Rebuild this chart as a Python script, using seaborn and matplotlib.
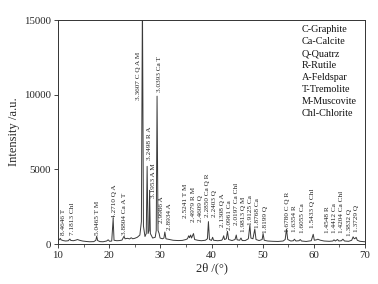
import matplotlib
matplotlib.use("Agg")
import matplotlib.pyplot as plt
import seaborn as sns
import pandas as pd
from matplotlib.ticker import MultipleLocator

# ---- data: traced vertices of the XRD pattern (2theta in degrees, intensity a.u.)
two_theta = [10.0, 10.3, 10.44, 10.6, 11.0, 11.5, 12.0, 12.32, 12.5, 13.0, 13.5, 13.8, 14.2, 14.8,
             15.5, 16.2, 17.0, 17.4, 17.56, 17.75, 18.2, 18.8, 19.5, 19.8, 20.1, 20.5, 20.78, 20.95,
             21.5, 22.0, 22.5, 22.9, 23.1, 23.6, 24.0, 24.3, 24.6, 25.0, 25.5, 26.0, 26.3, 26.5,
             26.7, 27.0, 27.25, 27.42, 27.6, 27.8, 27.9, 28.05, 28.5, 29.0, 29.2, 29.36, 29.55,
             29.77, 29.95, 30.4, 30.7, 30.88, 31.1, 31.8, 32.5, 33.5, 34.3, 35.0, 35.3, 35.54,
             35.7, 35.92, 36.1, 36.48, 36.7, 37.3, 38.0, 38.8, 39.2, 39.4, 39.6, 40.0, 40.22,
             40.4, 41.2, 42.0, 42.2, 42.38, 42.55, 42.9, 43.12, 43.35, 44.0, 44.6, 44.84, 45.0,
             45.5, 45.76, 46.0, 46.6, 47.2, 47.5, 47.7, 48.1, 48.46, 48.7, 49.3, 49.9, 50.08,
             50.3, 51.0, 52.0, 53.0, 54.0, 54.4, 54.65, 54.9, 55.5, 56.0, 56.2, 56.5, 57.1,
             57.34, 57.6, 58.5, 59.5, 59.88, 60.1, 60.5, 60.8, 61.2, 62.0, 63.0, 63.7, 63.94,
             64.2, 64.62, 64.9, 65.4, 65.68, 66.0, 66.8, 67.4, 67.68, 67.9, 68.1, 68.26, 68.5,
             69.0, 70.0]
intensity = [250, 300, 380, 280, 230, 200, 220, 330, 240, 220, 260, 300, 250, 200,
             170, 150, 160, 250, 520, 230, 160, 150, 200, 280, 180, 200, 1700, 250,
             220, 230, 260, 520, 350, 380, 340, 420, 350, 380, 450, 600, 1500, 16500,
             1200, 500, 700, 5200, 700, 900, 3600, 700, 400, 450, 900, 9900, 900,
             700, 400, 350, 400, 800, 350, 300, 250, 230, 240, 300, 350, 550,
             420, 600, 400, 700, 300, 250, 220, 250, 350, 1500, 300, 240, 450,
             250, 220, 250, 350, 550, 300, 350, 850, 300, 230, 300, 600, 280,
             250, 400, 230, 230, 350, 1250, 400, 350, 1000, 300, 230, 300, 700,
             250, 200, 180, 170, 200, 300, 1000, 300, 200, 220, 320, 200, 220,
             300, 200, 170, 220, 650, 250, 280, 320, 260, 200, 180, 200, 280,
             200, 300, 200, 220, 320, 200, 180, 250, 480, 350, 380, 450, 250,
             180, 150]

# ---- peak annotations (text, label position in data coords)
peak_labels = ["8.4646 T", "7.1813 Chl", "5.0465 T M", "4.2710 Q A", "3.8804 Ca A T",
               "3.3607 C Q A M", "3.2498 R A", "3.1953 A M", "3.0393 Ca T", "2.9986 A",
               "2.8934 A", "2.5241 T M", "2.4979 R M", "2.4609 Q", "2.2850 Ca Q R",
               "2.2403 Q", "2.1308 Q A", "2.0961 Ca", "2.0197 Ca Chl", "1.9813 Q M",
               "1.9125 Ca", "1.8768 Ca", "1.8199 Q", "1.6780 C Q R", "1.6354 R",
               "1.6055 Ca", "1.5433 Q Chl", "1.4548 R", "1.4412 Ca", "1.4204 Ca Chl",
               "1.3832 Q", "1.3729 Q"]
label_x = [11.0, 12.9, 17.76, 21.0, 22.9, 25.8, 27.85, 28.75, 29.9, 30.2,
           31.7, 34.9, 36.4, 37.9, 39.2, 40.65, 42.1, 43.55, 44.8, 46.2,
           47.6, 49.0, 50.6, 54.9, 56.3, 57.75, 59.7, 62.6, 64.05, 65.5,
           66.95, 68.4]
label_y = [600, 600, 600, 1740, 600, 9650, 5600, 3080, 10200, 1400,
           940, 1740, 1470, 1470, 1800, 1800, 1140, 940, 1270, 800,
           1270, 1070, 740, 800, 800, 740, 1070, 740, 740, 740,
           540, 800]

phase_key = ["C-Graphite", "Ca-Calcite", "Q-Quatrz", "R-Rutile", "A-Feldspar",
             "T-Tremolite", "M-Muscovite", "Chl-Chlorite"]

x_ticks = [10, 20, 30, 40, 50, 60, 70]
y_ticks = [0, 5000, 10000, 15000]

sns.set_style("ticks")
plt.rcParams['font.family'] = ['Liberation Serif', 'DejaVu Serif']

df = pd.DataFrame({"two_theta": two_theta, "intensity": intensity})

fig = plt.figure(figsize=(3.78, 2.84), dpi=100)
ax = fig.add_axes([58 / 378, 1 - 244 / 284, (365 - 58) / 378, (244 - 20) / 284])

sns.lineplot(data=df, x="two_theta", y="intensity", ax=ax, color="#3a3a3a",
             linewidth=0.7, estimator=None, sort=False)

for txt, lx, ly in zip(peak_labels, label_x, label_y):
    ax.text(lx, ly, txt, rotation=90, ha="center", va="bottom", fontsize=5.2,
            color="#222222")

ax.text(57.6, 14650, "\n".join(phase_key), ha="left", va="top", fontsize=7.3,
        linespacing=1.42, color="#111111")

ax.set_xlim(10, 70)
ax.set_ylim(0, 15000)
ax.set_xticks(x_ticks)
ax.set_yticks(y_ticks)
ax.xaxis.set_minor_locator(MultipleLocator(5))
ax.tick_params(axis="both", which="major", labelsize=7.8, length=3, width=0.6,
               direction="out", pad=2)
ax.tick_params(axis="both", which="minor", length=1.8, width=0.5, direction="out")
ax.set_xlabel("2θ /(°)", fontsize=9, labelpad=2)
ax.set_ylabel("Intensity /a.u.", fontsize=9, labelpad=3)
for s in ax.spines.values():
    s.set_linewidth(0.7)
    s.set_color("#333333")

fig.savefig("out.png", dpi=100)
